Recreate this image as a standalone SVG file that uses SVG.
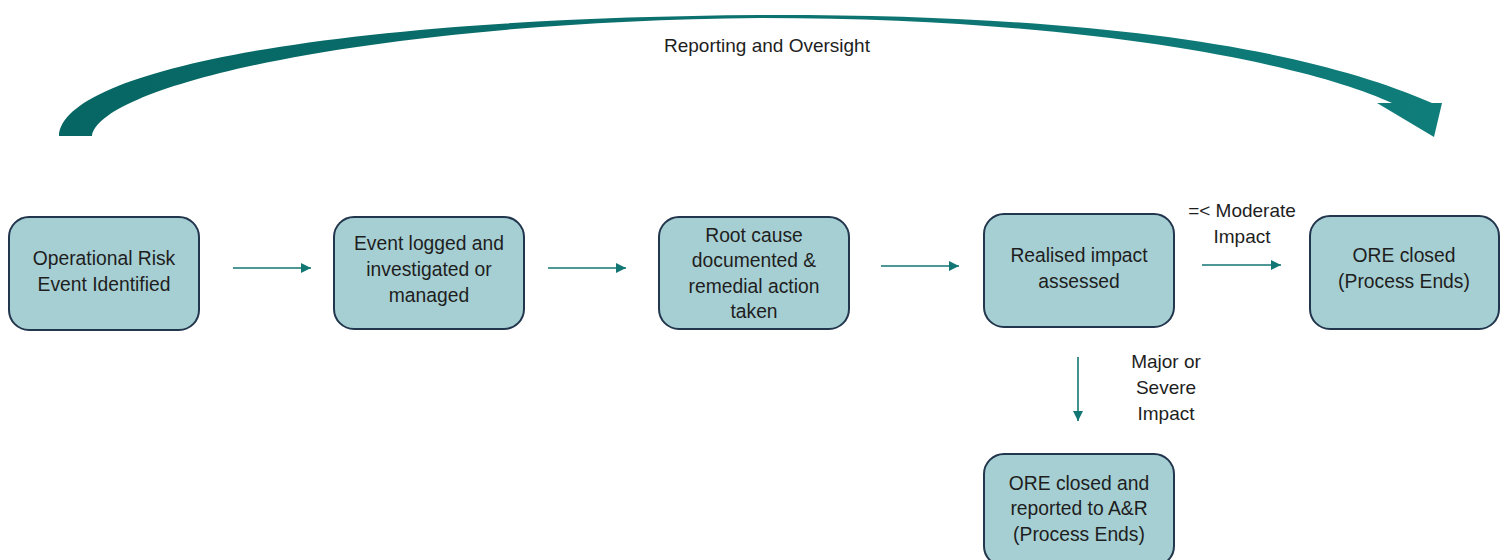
<svg xmlns="http://www.w3.org/2000/svg" width="1502" height="560" viewBox="0 0 1502 560">
<defs>
<style>
.box{fill:#a6cfd3;stroke:#22364d;stroke-width:2;}
.t{font-family:"Liberation Sans",Arial,sans-serif;font-size:19.3px;fill:#1e1e1e;text-anchor:middle;}
.lbl{font-family:"Liberation Sans",Arial,sans-serif;font-size:19px;fill:#1e1e1e;text-anchor:middle;}
.conn{stroke:#127674;stroke-width:1.6;fill:none;marker-end:url(#ah);}
</style>
<marker id="ah" markerWidth="10" markerHeight="10" viewBox="0 0 10 10" refX="10" refY="5" orient="auto" markerUnits="userSpaceOnUse">
<path d="M0,0 L10,5 L0,10 Z" fill="#127674"/>
</marker>
<linearGradient id="bandg" x1="0" y1="0" x2="1" y2="0">
<stop offset="0" stop-color="#066663"/>
<stop offset="0.5" stop-color="#0c7270"/>
<stop offset="1" stop-color="#0f7d7a"/>
</linearGradient>
</defs>
<rect width="1502" height="560" fill="#ffffff"/>
<g id="reporting-arrow">
<path d="M59,136 C62,70 330,18 760,15 C1080,14 1300,45 1432,103 L1442,103 L1434,137 L1377,103 L1392,103 C1310,65 1090,18 760,18 C370,22 100,85 92,136 Z" fill="url(#bandg)"/>
<text class="lbl" x="767" y="52">Reporting and Oversight</text>
</g>
<g id="connectors">
<line class="conn" x1="233" y1="268" x2="311" y2="268"/>
<line class="conn" x1="548" y1="268" x2="626" y2="268"/>
<line class="conn" x1="881" y1="266" x2="959" y2="266"/>
<line class="conn" x1="1202" y1="265" x2="1281" y2="265"/>
<line class="conn" x1="1078" y1="357" x2="1078" y2="421"/>
<text class="lbl" x="1242" y="217">=&lt; Moderate</text>
<text class="lbl" x="1242" y="243">Impact</text>
<text class="lbl" x="1166" y="368">Major or</text>
<text class="lbl" x="1166" y="394">Severe</text>
<text class="lbl" x="1166" y="420">Impact</text>
</g>
<g id="n1">
<rect class="box" x="9" y="217" width="190" height="113" rx="20"/>
<text class="t" x="104" y="265">Operational Risk</text>
<text class="t" x="104" y="291">Event Identified</text>
</g>
<g id="n2">
<rect class="box" x="334" y="217" width="190" height="112" rx="20"/>
<text class="t" x="429" y="250">Event logged and</text>
<text class="t" x="429" y="276">investigated or</text>
<text class="t" x="429" y="302">managed</text>
</g>
<g id="n3">
<rect class="box" x="659" y="217" width="190" height="112" rx="20"/>
<text class="t" x="754" y="242">Root cause</text>
<text class="t" x="754" y="267">documented &amp;</text>
<text class="t" x="754" y="293">remedial action</text>
<text class="t" x="754" y="318">taken</text>
</g>
<g id="n4">
<rect class="box" x="984" y="214" width="190" height="113" rx="20"/>
<text class="t" x="1079" y="262">Realised impact</text>
<text class="t" x="1079" y="288">assessed</text>
</g>
<g id="n5">
<rect class="box" x="1310" y="216" width="189" height="113" rx="20"/>
<text class="t" x="1404" y="262">ORE closed</text>
<text class="t" x="1404" y="288">(Process Ends)</text>
</g>
<g id="n6">
<rect class="box" x="984" y="454" width="190" height="112" rx="20"/>
<text class="t" x="1079" y="490">ORE closed and</text>
<text class="t" x="1079" y="515">reported to A&amp;R</text>
<text class="t" x="1079" y="541">(Process Ends)</text>
</g>
</svg>
